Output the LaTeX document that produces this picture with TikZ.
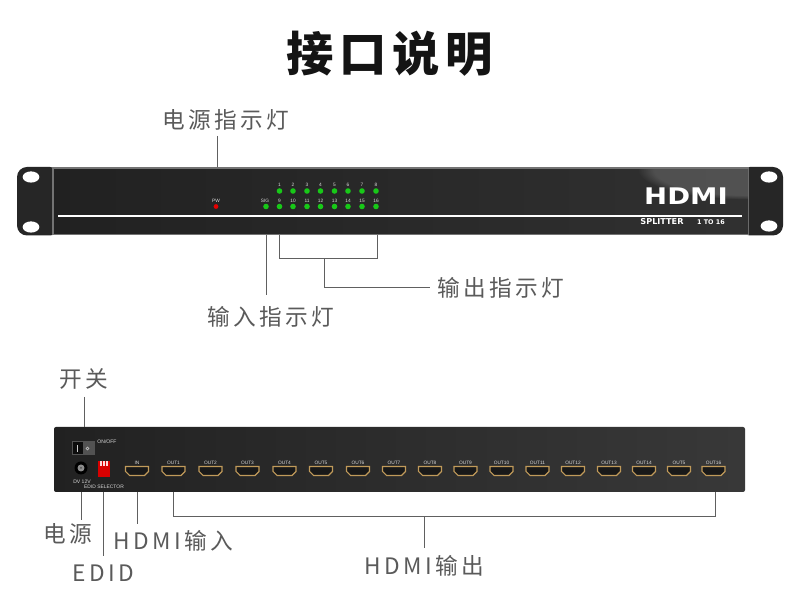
\documentclass[tikz,border=0pt]{standalone}
\usepackage{fontspec}
\setmainfont{Liberation Sans}
\newfontfamily\cjk[LetterSpace=15]{Noto Sans CJK SC}
\newfontfamily\cjkt[LetterSpace=12]{Noto Sans CJK SC}
\newfontfamily\logo{DejaVu Sans}
\definecolor{lab}{HTML}{5A5A5A}
\definecolor{conn}{HTML}{606060}
\definecolor{gold}{HTML}{C09A5A}
\definecolor{led}{HTML}{18C818}
\usetikzlibrary{shapes.geometric,fadings}
\tikzset{
  lbl/.style={font=\cjk\fontsize{17}{19}\selectfont,text=lab,inner sep=0pt},
  conn/.style={draw=conn,line width=0.75pt},
  tiny/.style={font=\fontsize{3.6}{4}\selectfont,text=white!85!black,inner sep=0pt},
  ledg/.style={circle,fill=led,minimum size=4.2pt,inner sep=0pt},
  hole/.style={ellipse,fill=white,minimum width=12.5pt,minimum height=8.4pt,inner sep=0pt},
  ear/.style={fill=black!85,rounded corners=7.5pt},
}
\newcommand{\hdport}[1]{%
  \fill[black!90] (#1-11.5,466.5) -- (#1+11.5,466.5) -- (#1+11.5,471.5) -- (#1+7.5,475.5) -- (#1-7.5,475.5) -- (#1-11.5,471.5) -- cycle;
  \draw[gold,line width=0.8pt] (#1-11.5,466.5) -- (#1+11.5,466.5) -- (#1+11.5,471.5) -- (#1+7.5,475.5) -- (#1-7.5,475.5) -- (#1-11.5,471.5) -- cycle;
}
\begin{document}
\begin{tikzpicture}[x=0.75pt,y=-0.75pt]
\useasboundingbox (0,0) rectangle (790,605);
\fill[white] (0,0) rectangle (790,605);
\node[inner sep=0pt,font=\cjkt\bfseries\fontsize{35.5}{38}\selectfont,text=black!92] (title) at (389.5,54) {接口说明};
% front panel
\fill[ear] (60,167) -- (17,167) -- (17,235.5) -- (60,235.5) -- cycle;
\fill[ear] (740,167) -- (783,167) -- (783,235.5) -- (740,235.5) -- cycle;
\node[hole] (h1) at (31,177) {};
\node[hole] (h2) at (31,227) {};
\node[hole] (h3) at (769,177) {};
\node[hole] (h4) at (769,226) {};
\fill[black!55] (52,167.5) rectangle (749,235);
\path[left color=black!87,right color=black!81] (54,169.5) rectangle (748,234);
\begin{scope}
\clip (54,169.5) rectangle (748,234);
\fill[white,opacity=.16,path fading=circle with fuzzy edge 15 percent] (748,169.5) ellipse [x radius=110,y radius=30];
\end{scope}
\draw[white,line width=0.9pt] (58,216) -- (742,216);
\node[tiny] (pw) at (216,201) {PW};
\node[circle,fill=red!90!black,minimum size=3.6pt,inner sep=0pt] (pwl) at (216,206.5) {};
\node[tiny] (sig) at (265,201) {SIG};
\node[ledg] (sigl) at (266,206.5) {};
\foreach \i/\x in {1/279.5,2/293,3/307,4/320.5,5/334.5,6/348,7/362,8/376}{
  \node[tiny] (n\i) at (\x,185) {\i};
  \node[ledg] (l\i) at (\x,191) {};
}
\foreach \i/\x in {9/279.5,10/293,11/307,12/320.5,13/334.5,14/348,15/362,16/376}{
  \node[tiny] (n\i) at (\x,201) {\i};
  \node[ledg] (l\i) at (\x,206.5) {};
}
\node[inner sep=0pt,text=white] (hdmi) at (686,196) {\logo\bfseries\fontsize{17.5}{20}\selectfont\scalebox{1.18}[0.98]{HDMI}};
\node[inner sep=0pt,text=white,font=\logo\bfseries\fontsize{6.1}{7}\selectfont] (split) at (662,222) {SPLITTER};
\node[inner sep=0pt,text=white,font=\logo\bfseries\fontsize{4.8}{6}\selectfont] (ratio) at (711,222) {1 TO 16};
% back panel
\path[left color=black!87,right color=black!78,rounded corners=1.5pt] (54,427) rectangle (745,492);
\fill[black!68] (72,441) rectangle (95,455);
\fill[black!95] (73,442.5) rectangle (83,454);
\draw[white!80!black,line width=0.4pt] (77,445) -- (77,452);
\draw[white!80!black,line width=0.4pt] (87.5,448.5) circle (1.5);
\node[tiny,font=\fontsize{3.8}{4}\selectfont] (onoff) at (107,442) {ON/OFF};
\fill[black] (81,468) circle (6.5);
\fill[black!45] (81,468) circle (3.5);
\fill[black!70] (81,468) circle (1);
\node[tiny,font=\fontsize{3.8}{4}\selectfont] (dv) at (82,482) {DV 12V};
\fill[red!85!black] (98,461) rectangle (110,477);
\foreach \x in {101,104,107}{\fill[white!85!red] (\x-1,461.5) rectangle (\x+1,466);}
\node[tiny,font=\fontsize{3.7}{4}\selectfont] (edids) at (104,487) {EDID SELECTOR};
\node[tiny] (in) at (137,462.5) {IN};
\hdport{137}
\foreach \i/\x/\t in {1/173.5/OUT1,2/210.5/OUT2,3/247.5/OUT3,4/284.5/OUT4,5/321/OUT5,6/358/OUT6,7/394/OUT7,8/430/OUT8,9/465.5/OUT9,10/501.5/OUT10,11/537.5/OUT11,12/573/OUT12,13/609/OUT13,14/644/OUT14,15/679/OUT5,16/713.5/OUT16}{
  \node[tiny] (o\i) at (\x,462.5) {\t};
  \hdport{\x}
}
% labels
\node[lbl] (lpow) at (225.5,120) {电源指示灯};
\node[lbl] (lout) at (500.5,288) {输出指示灯};
\node[lbl] (lin) at (270.5,317) {输入指示灯};
\node[lbl] (lsw) at (83.5,379) {开关};
\node[lbl] (ldc) at (67.5,534) {电源};
\node[lbl] (lhin) at (173.5,541) {HDMI输入};
\node[lbl] (ledid) at (103.5,573) {EDID};
\node[lbl] (lhout) at (424.5,566) {HDMI输出};
% connectors
\coordinate (a1) at (217.5,136); \coordinate (a2) at (217.5,167.5);
\draw[conn] (a1) -- (a2);
\coordinate (b1) at (266.5,235); \coordinate (b2) at (266.5,295);
\draw[conn] (b1) -- (b2);
\coordinate (c1) at (279.5,235); \coordinate (c2) at (377.5,235); \coordinate (c3) at (324.5,258.5); \coordinate (c4) at (324.5,287.5); \coordinate (c5) at (430,287.5);
\draw[conn] (c1) |- (c3) -| (c2);
\draw[conn] (c3) -- (c4) -- (c5);
\coordinate (d1) at (84.5,397); \coordinate (d2) at (84.5,427);
\draw[conn] (d1) -- (d2);
\coordinate (e1) at (81.5,492); \coordinate (e2) at (81.5,520);
\draw[conn] (e1) -- (e2);
\coordinate (f1) at (103.5,492); \coordinate (f2) at (103.5,556);
\draw[conn] (f1) -- (f2);
\coordinate (g1) at (137.5,492); \coordinate (g2) at (137.5,524);
\draw[conn] (g1) -- (g2);
\coordinate (k1) at (173.5,492); \coordinate (k2) at (715.5,492); \coordinate (k3) at (424.5,516.5); \coordinate (k4) at (424.5,548);
\draw[conn] (k1) |- (k3) -| (k2);
\draw[conn] (k3) -- (k4);
\end{tikzpicture}
\end{document}
